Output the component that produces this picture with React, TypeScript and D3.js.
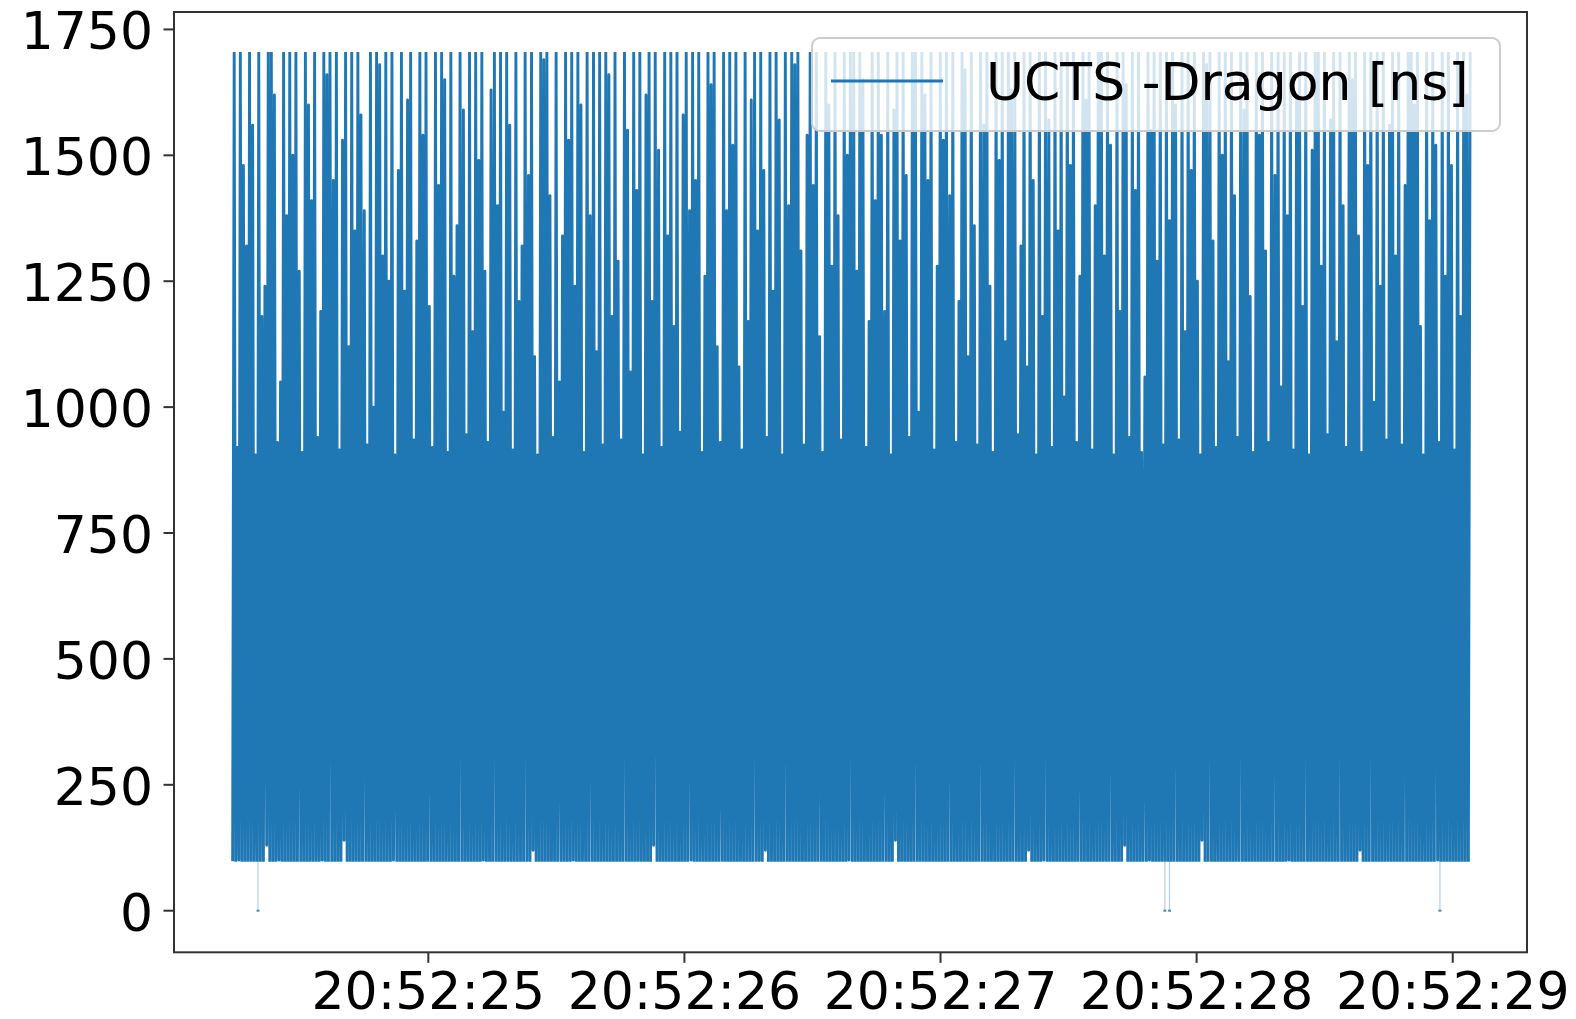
import React from 'react';
import * as d3 from 'd3';

// ---------- data ----------
const seriesLabel = 'UCTS -Dragon [ns]';
// event times, seconds after 20:52:00
const startSec = 24.236;
const endSec = 29.068;

// alternating lows / highs of the UCTS - Dragon difference [ns]
const lows = [
  98, 98, 100, 98, 97, 98, 99, 98, 98, 98,
  98, 130, 98, 98, 98, 100, 98, 97, 98, 98,
  98, 98, 98, 98, 98, 98, 99, 98, 98, 100,
  98, 97, 98, 98, 98, 98, 140, 98, 98, 98,
  99, 98, 98, 98, 98, 98, 98, 98, 97, 98,
  98, 98, 100, 98, 98, 98, 98, 98, 98, 98,
  98, 98, 98, 99, 98, 98, 98, 98, 98, 98,
  97, 98, 98, 98, 98, 98, 98, 98, 98, 98,
  98, 100, 98, 98, 98, 98, 98, 98, 98, 99,
  98, 98, 98, 98, 97, 98, 98, 120, 98, 98,
  98, 98, 98, 98, 98, 98, 99, 98, 98, 98,
  100, 98, 98, 98, 98, 98, 98, 98, 98, 98,
  98, 98, 97, 98, 98, 98, 98, 98, 98, 98,
  98, 99, 98, 98, 98, 98, 130, 98, 98, 98,
  98, 98, 98, 98, 98, 98, 98, 98, 100, 98,
  98, 98, 98, 98, 98, 98, 98, 98, 98, 97,
  98, 98, 98, 98, 98, 98, 98, 98, 98, 98,
  99, 98, 120, 98, 98, 98, 98, 98, 98, 98,
  98, 98, 98, 98, 98, 98, 98, 98, 98, 98,
  98, 98, 98, 98, 98, 98, 98, 98, 98, 100,
  98, 98, 98, 98, 98, 98, 98, 98, 98, 98,
  98, 98, 98, 98, 140, 98, 98, 98, 98, 98,
  98, 98, 99, 98, 98, 98, 98, 98, 98, 98,
  98, 98, 98, 98, 98, 98, 98, 98, 98, 98,
  98, 97, 98, 98, 98, 98, 98, 98, 98, 98,
  98, 98, 98, 98, 98, 98, 98, 120, 98, 98,
  98, 98, 100, 98, 98, 98, 98, 98, 98, 98,
  98, 98, 98, 98, 97, 98, 98, 98, 98, 98,
  98, 99, 98, 98, 98, 98, 98, 98, 130, 98,
  98, 98, 98, 98, 98, 98, 100, 98, 98, 98,
  98, 98, 98, 98, 98, 98, 98, 98, 98, 98,
  97, 98, 98, 140, 98, 98, 98, 98, 98, 98,
  98, 98, 98, 98, 98, 99, 98, 98, 98, 98,
  98, 98, 98, 98, 98, 98, 98, 98, 98, 98,
  98, 100, 98, 98, 98, 98, 98, 97, 98, 98,
  98, 98, 98, 98, 98, 98, 98, 98, 98, 98,
  98, 98, 98, 98, 120, 98, 98, 98, 98, 98,
  98, 98, 98, 99, 98, 98, 98, 98, 98, 98,
  98, 98, 98, 98, 98, 98, 98, 98, 98, 100,
  98, 98, 98, 98, 98, 98, 98, 98, 98, 98,
];
const highs = [
  1705, 920, 1705, 1480, 1320, 1705, 1560, 905, 1705, 1180,
  1240, 1705, 1705, 1620, 930, 1050, 1705, 1380, 1705, 1500,
  1705, 1270, 910, 1705, 1600, 1410, 1705, 940, 1190, 1705,
  1660, 1705, 1450, 1705, 915, 1530, 1705, 1120, 1705, 1350,
  1705, 1580, 1390, 925, 1705, 1000, 1705, 1680, 1300, 1705,
  1250, 1705, 905, 1470, 1705, 1230, 1610, 1705, 935, 1330,
  1705, 1540, 1705, 1200, 920, 1705, 1440, 1705, 1650, 910,
  1705, 1260, 1360, 1705, 1590, 945, 1705, 1150, 1705, 1490,
  1705, 1270, 930, 1630, 1705, 1400, 1705, 990, 1705, 1560,
  915, 1705, 1210, 1320, 1705, 1460, 1705, 1100, 905, 1705,
  1690, 1705, 1420, 940, 1705, 1050, 1340, 1705, 1530, 1705,
  1240, 1705, 1600, 910, 1705, 1380, 1705, 1110, 1705, 925,
  1705, 1660, 1180, 1705, 1290, 935, 1705, 1550, 1070, 1705,
  1430, 1705, 905, 1620, 1705, 1210, 1705, 1510, 920, 1705,
  1340, 1705, 1160, 1705, 950, 1580, 1705, 1390, 1705, 1450,
  1705, 910, 1260, 1705, 1640, 1705, 1120, 930, 1705, 1390,
  1705, 1520, 1705, 1080, 915, 1705, 1170, 1610, 1705, 1350,
  1705, 1470, 940, 1705, 1230, 1705, 1570, 905, 1705, 1400,
  1705, 1680, 1705, 1310, 925, 1540, 1705, 1440, 1705, 1140,
  910, 1705, 1600, 1280, 1705, 1380, 935, 1705, 1500, 1705,
  1705, 1270, 1705, 1650, 920, 1170, 1705, 1410, 1705, 1540,
  1190, 1705, 905, 1590, 1705, 1330, 1705, 1460, 940, 1705,
  1705, 990, 1705, 1620, 1450, 1705, 915, 1280, 1705, 1530,
  1705, 1420, 1705, 930, 1210, 1705, 1670, 1100, 1705, 1360,
  925, 1705, 1560, 1705, 1240, 910, 1705, 1490, 1705, 1130,
  1705, 1630, 1705, 945, 1320, 1705, 1080, 1705, 1450, 905,
  1705, 1180, 1705, 1570, 920, 1705, 1350, 1705, 1020, 1705,
  1480, 1705, 930, 1260, 1705, 1610, 1705, 915, 1400, 1705,
  1705, 1300, 1705, 1520, 905, 1705, 1190, 1705, 1640, 940,
  1705, 1430, 1705, 910, 1060, 1705, 1550, 1705, 1290, 1705,
  925, 1705, 1370, 1705, 1600, 935, 1705, 1150, 1705, 1470,
  1705, 1250, 905, 1705, 1680, 1705, 1330, 920, 1705, 1500,
  1705, 1090, 1705, 1420, 940, 1705, 1590, 1705, 1220, 910,
  1705, 1540, 1705, 1310, 930, 1705, 1460, 1705, 1040, 1705,
  1380, 1705, 915, 1620, 1705, 1200, 1705, 905, 1510, 1705,
  1705, 1280, 1705, 945, 1570, 1705, 1130, 1705, 1400, 920,
  1705, 1650, 1705, 1340, 910, 1705, 1480, 1705, 1010, 1705,
  1240, 1705, 935, 1560, 1705, 1300, 1705, 925, 1440, 1705,
  1705, 1600, 1705, 1160, 905, 1705, 1370, 1705, 1520, 930,
  1705, 1260, 1705, 1480, 915, 1705, 1180, 1705, 1620, 1705,
];

// isolated drops of the difference to ~0 ns
const dipTimes = [24.335, 27.876, 27.894, 28.95];
const dipValues = [0, 0, 0, 0];
const dipBase = 98;

const yTicks = [0, 250, 500, 750, 1000, 1250, 1500, 1750];
const xTickSeconds = [25, 26, 27, 28, 29];
const xDomainSec = [24.007, 29.29];
const yDomain = [-82.6, 1784.6];

// ---------- helpers ----------
const BASE = new Date(2020, 0, 1, 20, 52, 0).getTime();
const toDate = (s: number) => new Date(BASE + s * 1000);

const W = 1576;
const H = 1019;
const PLOT = { left: 174, right: 1527, top: 12, bottom: 952.3 };
const BLUE = '#1f77b4';
const FONT = 'DejaVu Sans';
const FS = 52;

export default function App() {
  const values = lows.flatMap((l, i) => [l, highs[i]]);
  const n = values.length;
  const times = values.map((_, i) => startSec + (i * (endSec - startSec)) / (n - 1));

  const x = d3
    .scaleTime()
    .domain([toDate(xDomainSec[0]), toDate(xDomainSec[1])])
    .range([PLOT.left, PLOT.right]);
  const y = d3.scaleLinear().domain(yDomain).range([PLOT.bottom, PLOT.top]);
  const fmt = d3.timeFormat('%H:%M:%S');

  const line = d3
    .line<number>()
    .x((_, i) => x(toDate(times[i])))
    .y((d) => y(d));

  const mainPath = line(values) || '';
  const vMax = d3.max(values) as number;
  const vMin = d3.min(values) as number;

  return (
    <svg
      width={W}
      height={H}
      style={{ position: 'absolute', left: 0, top: 0, background: '#fff' }}
      fontFamily={FONT}
    >
      <rect x={0} y={0} width={W} height={H} fill="#fff" />
      <defs>
        <clipPath id="bandClip">
          <rect x={PLOT.left} y={y(vMax)} width={PLOT.right - PLOT.left} height={y(vMin) - y(vMax)} />
        </clipPath>
      </defs>
      {/* main series */}
      <path
        d={mainPath}
        fill="none"
        stroke={BLUE}
        strokeWidth={2.9}
        strokeLinejoin="round"
        strokeLinecap="butt"
        clipPath="url(#bandClip)"
      />
      {/* drops */}
      {dipTimes.map((s, i) => (
        <g key={'dip' + i}>
          <line
            x1={x(toDate(s))}
            x2={x(toDate(s))}
            y1={y(dipBase)}
            y2={y(dipValues[i])}
            stroke={BLUE}
            strokeOpacity={0.35}
            strokeWidth={1.2}
          />
          <line
            x1={x(toDate(s - 0.006))}
            x2={x(toDate(s + 0.006))}
            y1={y(dipValues[i])}
            y2={y(dipValues[i])}
            stroke={BLUE}
            strokeOpacity={0.8}
            strokeWidth={2}
          />
        </g>
      ))}

      {/* legend */}
      <g>
        <rect
          x={812}
          y={38}
          width={688}
          height={93}
          rx={8}
          fill="#fff"
          fillOpacity={0.8}
          stroke="#cccccc"
          strokeWidth={2}
        />
        <line x1={831} x2={943} y1={81} y2={81} stroke={BLUE} strokeWidth={3} />
        <text x={986} y={100} fontSize={FS} fill="#000">
          {seriesLabel}
        </text>
      </g>

      {/* spines */}
      <rect
        x={PLOT.left}
        y={PLOT.top}
        width={PLOT.right - PLOT.left}
        height={PLOT.bottom - PLOT.top}
        fill="none"
        stroke="#333"
        strokeWidth={2}
      />

      {/* y axis */}
      {yTicks.map((v) => (
        <g key={'y' + v}>
          <line x1={PLOT.left - 10.5} x2={PLOT.left} y1={y(v)} y2={y(v)} stroke="#333" strokeWidth={2} />
          <text x={153} y={y(v) + 20} fontSize={FS} textAnchor="end" fill="#000">
            {v}
          </text>
        </g>
      ))}

      {/* x axis */}
      {xTickSeconds.map((s) => (
        <g key={'x' + s}>
          <line
            x1={x(toDate(s))}
            x2={x(toDate(s))}
            y1={PLOT.bottom}
            y2={PLOT.bottom + 10.5}
            stroke="#333"
            strokeWidth={2}
          />
          <text x={x(toDate(s))} y={1009} fontSize={FS} textAnchor="middle" fill="#000">
            {fmt(toDate(s))}
          </text>
        </g>
      ))}
    </svg>
  );
}
